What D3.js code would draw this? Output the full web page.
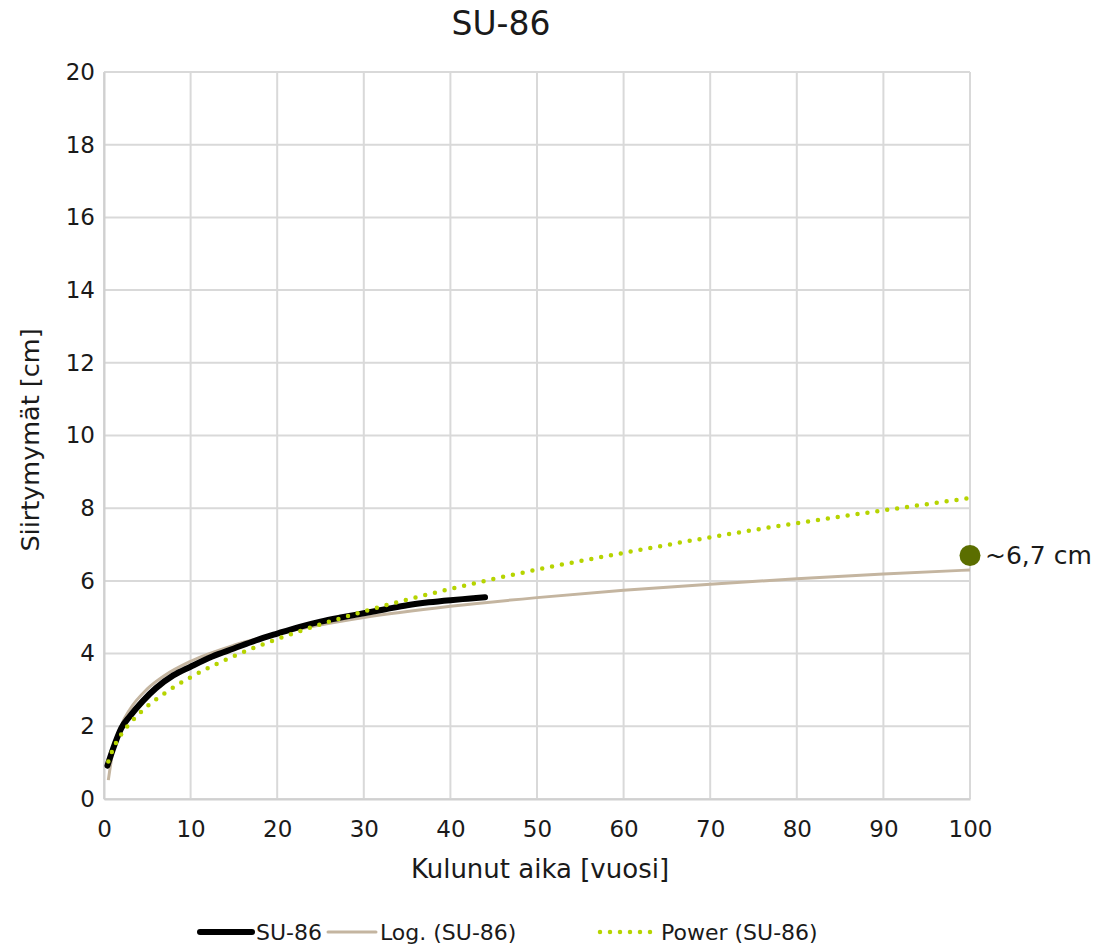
<!DOCTYPE html>
<html>
<head>
<meta charset="utf-8">
<script src="https://cdn.jsdelivr.net/npm/d3@7"></script>
<style>
  body { margin: 0; background: #fff; }
  text { font-family: "DejaVu Sans", Verdana, sans-serif; fill: #1a1a1a; }
</style>
</head>
<body>
<div id="chart"></div>
<script>
var suX = [0.4, 1, 2, 3, 4.5, 6, 8, 10, 12.5, 15, 17.5, 20, 22.5, 25, 27.5, 30, 32.5, 35, 37.5, 40, 42, 44];
var suY = [0.92, 1.35, 1.95, 2.28, 2.7, 3.05, 3.4, 3.64, 3.92, 4.14, 4.36, 4.55, 4.73, 4.88, 5.0, 5.11, 5.22, 5.33, 5.41, 5.47, 5.51, 5.55];

// trendlines
var logX = [0.5, 1, 2, 3, 5, 7, 10, 15, 20, 30, 40, 50, 60, 70, 80, 90, 100];
var logY = [0.52, 1.28, 2.03, 2.47, 3.03, 3.40, 3.79, 4.23, 4.54, 4.99, 5.30, 5.54, 5.74, 5.91, 6.06, 6.19, 6.30];
var powX = [0.5, 1, 2, 3, 5, 7, 10, 15, 20, 30, 40, 50, 60, 70, 80, 90, 100];
var powY = [1.03, 1.35, 1.78, 2.08, 2.55, 2.91, 3.35, 3.93, 4.40, 5.16, 5.78, 6.31, 6.77, 7.20, 7.59, 7.94, 8.28];

var markX = [100];
var markY = [6.7];
var markLabel = '~6,7 cm';

var xTicks = [0, 10, 20, 30, 40, 50, 60, 70, 80, 90, 100];
var yTicks = [0, 2, 4, 6, 8, 10, 12, 14, 16, 18, 20];

var W = 1113, H = 944;
var margin = {left: 104, right: 143, top: 72, bottom: 145};
var iw = W - margin.left - margin.right;
var ih = H - margin.top - margin.bottom;

var svg = d3.select('#chart').append('svg')
  .attr('width', W)
  .attr('height', H);

var g = svg.append('g')
  .attr('transform', 'translate(' + margin.left + ',' + margin.top + ')');

var x = d3.scaleLinear().domain([0, 100]).range([0, iw]);
var y = d3.scaleLinear().domain([0, 20]).range([ih, 0]);

// grid
g.selectAll('line.vgrid')
  .data(xTicks)
  .enter()
  .append('line')
  .attr('x1', function(d) { return x(d); })
  .attr('x2', function(d) { return x(d); })
  .attr('y1', 0)
  .attr('y2', ih)
  .style('stroke', '#d9d9d9')
  .style('stroke-width', 2);

g.selectAll('line.hgrid')
  .data(yTicks)
  .enter()
  .append('line')
  .attr('x1', 0)
  .attr('x2', iw)
  .attr('y1', function(d) { return y(d); })
  .attr('y2', function(d) { return y(d); })
  .style('stroke', '#d9d9d9')
  .style('stroke-width', 2);

// axes
var xAxis = g.append('g')
  .attr('transform', 'translate(0,' + ih + ')')
  .call(d3.axisBottom(x).tickValues(xTicks).tickSize(0).tickPadding(22));
var yAxis = g.append('g')
  .call(d3.axisLeft(y).tickValues(yTicks).tickSize(0).tickPadding(9));
[xAxis, yAxis].forEach(function(a) {
  a.select('.domain').style('stroke', '#d0d0d0').style('stroke-width', 2);
  a.selectAll('text').style('font-size', '23px').style('fill', '#1a1a1a')
    .style('font-family', '"DejaVu Sans", Verdana, sans-serif');
});

var line = d3.line()
  .x(function(d) { return x(d[0]); })
  .y(function(d) { return y(d[1]); })
  .curve(d3.curveMonotoneX);

g.append('path')
  .datum(d3.zip(logX, logY))
  .attr('d', line)
  .style('fill', 'none')
  .style('stroke', '#c4b5a0')
  .style('stroke-width', 3);

g.append('path')
  .datum(d3.zip(suX, suY))
  .attr('d', line)
  .style('fill', 'none')
  .style('stroke', '#000')
  .style('stroke-width', 6)
  .style('stroke-linecap', 'round');

g.append('path')
  .datum(d3.zip(powX, powY))
  .attr('d', line)
  .style('fill', 'none')
  .style('stroke', '#b6d400')
  .style('stroke-width', 4.5)
  .style('stroke-linecap', 'round')
  .style('stroke-dasharray', '0 10');

// marker
g.selectAll('circle.mark')
  .data(d3.zip(markX, markY))
  .enter()
  .append('circle')
  .attr('cx', function(d) { return x(d[0]); })
  .attr('cy', function(d) { return y(d[1]); })
  .attr('r', 10.5)
  .style('fill', '#5b6e00');

g.append('text')
  .attr('x', x(markX[0]) + 15)
  .attr('y', y(markY[0]) + 9)
  .style('font-size', '25px')
  .text(markLabel);

// titles
svg.append('text')
  .attr('x', 501)
  .attr('y', 35)
  .attr('text-anchor', 'middle')
  .style('font-size', '33px')
  .text('SU-86');

svg.append('text')
  .attr('x', 540)
  .attr('y', 878)
  .attr('text-anchor', 'middle')
  .style('font-size', '26px')
  .text('Kulunut aika [vuosi]');

svg.append('text')
  .attr('transform', 'translate(39,' + 440 + ') rotate(-90)')
  .attr('text-anchor', 'middle')
  .style('font-size', '25.5px')
  .text('Siirtymymät [cm]');

// legend
var legend = [
  {label: 'SU-86', color: '#000', width: 6, dash: null, x1: 200, x2: 252},
  {label: 'Log. (SU-86)', color: '#c4b5a0', width: 3, dash: null, x1: 328, x2: 376},
  {label: 'Power (SU-86)', color: '#b6d400', width: 4.5, dash: '0 10', x1: 600, x2: 657}
];
var lg = svg.selectAll('g.legend')
  .data(legend)
  .enter()
  .append('g');
lg.append('line')
  .attr('x1', function(d) { return d.x1; })
  .attr('x2', function(d) { return d.x2; })
  .attr('y1', 932)
  .attr('y2', 932)
  .style('stroke', function(d) { return d.color; })
  .style('stroke-width', function(d) { return d.width; })
  .style('stroke-linecap', 'round')
  .style('stroke-dasharray', function(d) { return d.dash; });
lg.append('text')
  .attr('x', function(d) { return d.x2 + 4; })
  .attr('y', 940)
  .style('font-size', '22px')
  .text(function(d) { return d.label; });
</script>
</body>
</html>
